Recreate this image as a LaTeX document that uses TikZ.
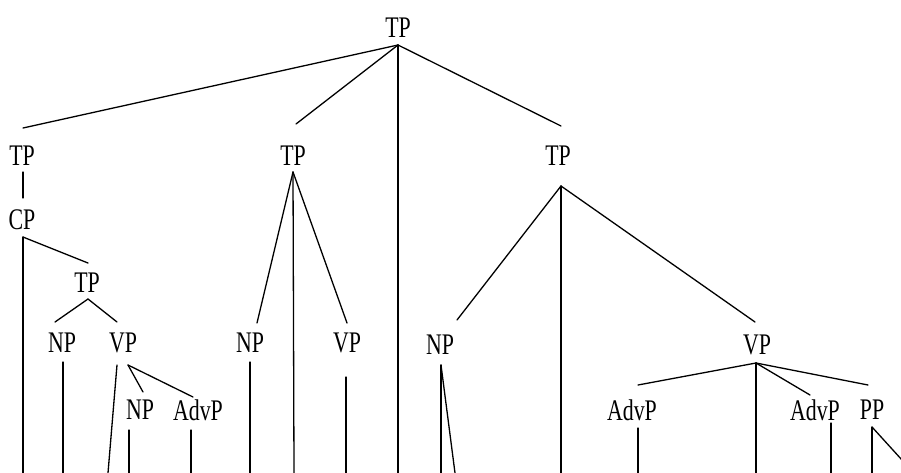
\documentclass[tikz,border=0pt]{standalone}
\usepackage{fontspec}
\setmainfont{Liberation Serif}
\begin{document}
\begin{tikzpicture}[x=1pt,y=-1pt,
  lbl/.style={inner sep=0pt,font=\fontsize{23}{23}\selectfont},
  edge/.style={line width=1.3pt,line cap=round}]
\useasboundingbox[fill=white] (0,0) rectangle (901,473);
\newcommand{\lab}[1]{\scalebox{0.95}[1.3]{#1}}
% labels
\node[lbl] (root) at (398,28) {\lab{TP}};
\node[lbl] (tpL) at (22,156) {\lab{TP}};
\node[lbl] (tpM) at (293,156) {\lab{TP}};
\node[lbl] (tpR) at (558,156) {\lab{TP}};
\node[lbl] (cp) at (22,220) {\lab{CP}};
\node[lbl] (tpI) at (87,283) {\lab{TP}};
\node[lbl] (np1) at (62,343) {\lab{NP}};
\node[lbl] (vp1) at (123,343) {\lab{VP}};
\node[lbl] (np2) at (140,410) {\lab{NP}};
\node[lbl] (adv1) at (198,410) {\lab{AdvP}};
\node[lbl] (npM) at (250,343) {\lab{NP}};
\node[lbl] (vpM) at (347,343) {\lab{VP}};
\node[lbl] (npR) at (440,345) {\lab{NP}};
\node[lbl] (vpR) at (757,345) {\lab{VP}};
\node[lbl] (advA) at (632,410) {\lab{AdvP}};
\node[lbl] (advB) at (815,410) {\lab{AdvP}};
\node[lbl] (pp) at (872,410) {\lab{PP}};
% attachment points
\coordinate (rootB) at (398,45);
\coordinate (tpLT) at (23,128);
\coordinate (tpLB) at (23,172);
\coordinate (tpMT) at (296,124);
\coordinate (tpMB) at (293,172);
\coordinate (tpRT) at (561,126);
\coordinate (tpRB) at (561,186);
\coordinate (cpT) at (23,198);
\coordinate (cpB) at (23,237);
\coordinate (tpIT) at (88,263);
\coordinate (tpIB) at (88,299);
\coordinate (np1T) at (55,322);
\coordinate (np1B) at (63,362);
\coordinate (vp1T) at (117,322);
\coordinate (vp1B) at (117,365);
\coordinate (vp1C) at (128,365);
\coordinate (np2T) at (143,392);
\coordinate (np2B) at (129,430);
\coordinate (adv1T) at (193,397);
\coordinate (adv1B) at (191,430);
\coordinate (npMT) at (257,323);
\coordinate (npMB) at (250,362);
\coordinate (vpMT) at (347,323);
\coordinate (vpMB) at (346,377);
\coordinate (npRT) at (457,320);
\coordinate (npRB) at (441,365);
\coordinate (vpRT) at (755,322);
\coordinate (vpRB) at (756,363);
\coordinate (advAT) at (638,385);
\coordinate (advAB) at (638,428);
\coordinate (advBT) at (810,395);
\coordinate (advBB) at (831,423);
\coordinate (ppT) at (868,385);
\coordinate (ppB) at (872,427);
% free ends at the bottom edge
\coordinate (e1) at (23,473);
\coordinate (e2) at (63,473);
\coordinate (e3) at (108,473);
\coordinate (e4) at (129,473);
\coordinate (e5) at (191,473);
\coordinate (e6) at (250,473);
\coordinate (e7) at (294,473);
\coordinate (e8) at (346,473);
\coordinate (e9) at (398,473);
\coordinate (e10) at (441,473);
\coordinate (e11) at (455,473);
\coordinate (e12) at (561,473);
\coordinate (e13) at (638,473);
\coordinate (e14) at (756,473);
\coordinate (e15) at (831,473);
\coordinate (e16) at (872,473);
\coordinate (e17) at (902,460);
% edges
\draw[edge] (rootB) -- (tpLT);
\draw[edge] (rootB) -- (tpMT);
\draw[edge] (rootB) -- (tpRT);
\draw[edge] (rootB) -- (e9);
\draw[edge] (tpLB) -- (cpT);
\draw[edge] (cpB) -- (e1);
\draw[edge] (cpB) -- (tpIT);
\draw[edge] (tpIB) -- (np1T);
\draw[edge] (tpIB) -- (vp1T);
\draw[edge] (np1B) -- (e2);
\draw[edge] (vp1B) -- (e3);
\draw[edge] (vp1C) -- (np2T);
\draw[edge] (vp1C) -- (adv1T);
\draw[edge] (np2B) -- (e4);
\draw[edge] (adv1B) -- (e5);
\draw[edge] (tpMB) -- (npMT);
\draw[edge] (tpMB) -- (e7);
\draw[edge] (tpMB) -- (vpMT);
\draw[edge] (npMB) -- (e6);
\draw[edge] (vpMB) -- (e8);
\draw[edge] (tpRB) -- (npRT);
\draw[edge] (tpRB) -- (e12);
\draw[edge] (tpRB) -- (vpRT);
\draw[edge] (npRB) -- (e10);
\draw[edge] (npRB) -- (e11);
\draw[edge] (vpRB) -- (advAT);
\draw[edge] (vpRB) -- (e14);
\draw[edge] (vpRB) -- (advBT);
\draw[edge] (vpRB) -- (ppT);
\draw[edge] (advAB) -- (e13);
\draw[edge] (advBB) -- (e15);
\draw[edge] (ppB) -- (e16);
\draw[edge] (ppB) -- (e17);
\end{tikzpicture}
\end{document}
